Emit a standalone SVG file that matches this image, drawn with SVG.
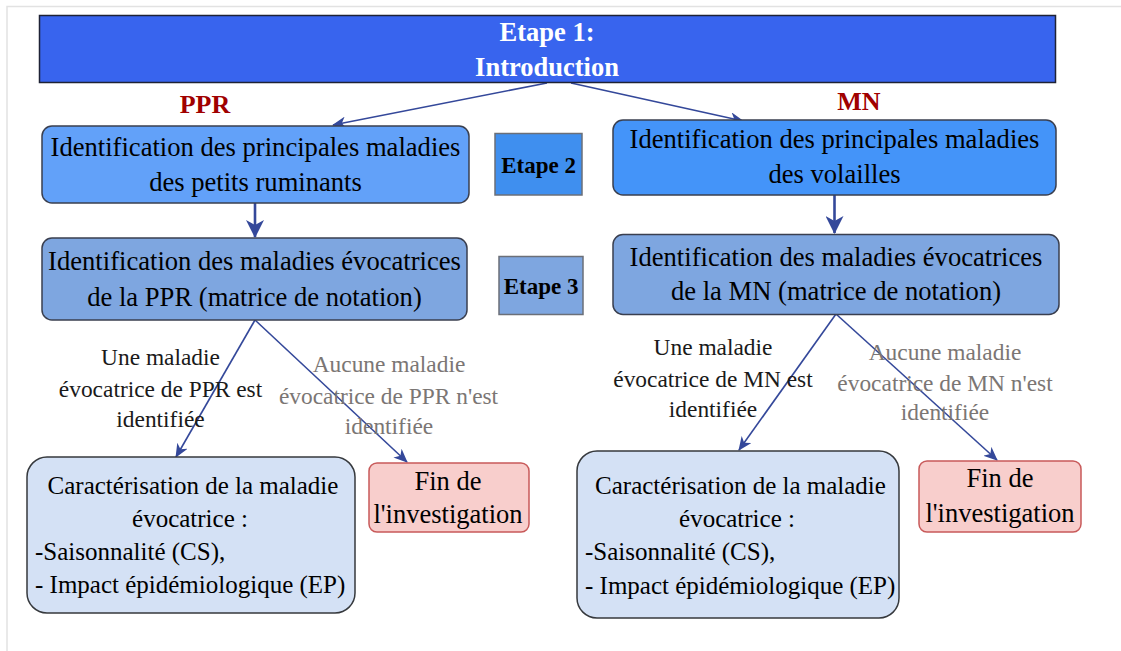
<svg xmlns="http://www.w3.org/2000/svg" width="1121" height="651" viewBox="0 0 1121 651">
<style>
text{font-family:"Liberation Serif","Times New Roman",serif;fill:#000}
.bt{font-size:26.6px;text-anchor:middle}
.ct{font-size:25px}
.lb{font-size:23.4px;text-anchor:middle;fill:#1a1a1a}
.lg{font-size:23.4px;text-anchor:middle;fill:#7b7674}
.fin{font-size:26.5px;text-anchor:middle}
.hd{font-size:26px;font-weight:bold;text-anchor:middle;fill:#a00000}
.et{font-size:23px;font-weight:bold;text-anchor:middle}
.title{font-size:26.5px;font-weight:bold;text-anchor:middle;fill:#fff}
.box{stroke:#3a3f4f;stroke-width:1.5}
.thin{stroke:#34489a;stroke-width:1.6;fill:none;marker-end:url(#ah)}
.thick{stroke:#34489a;stroke-width:2.6;fill:none;marker-end:url(#ahb)}
</style>
<defs>
<marker id="ah" markerUnits="userSpaceOnUse" markerWidth="14" markerHeight="12" refX="13" refY="6" orient="auto">
<path d="M0,0 L14,6 L0,12 L4,6 z" fill="#34489a"/>
</marker>
<marker id="ahb" markerUnits="userSpaceOnUse" markerWidth="18" markerHeight="18" refX="17" refY="9" orient="auto">
<path d="M0,0 L18,9 L0,18 L5,9 z" fill="#34489a"/>
</marker>
</defs>
<rect width="1121" height="651" fill="#fff"/>
<path d="M7,651 V6.5 H1121" fill="none" stroke="#e2e2e2" stroke-width="1.5"/>

<g id="connectors">
<line class="thin" x1="547" y1="83" x2="333" y2="125"/>
<line class="thin" x1="571" y1="83" x2="743" y2="121"/>
<line class="thick" x1="255" y1="203" x2="255" y2="237"/>
<line class="thick" x1="834.5" y1="195" x2="834.5" y2="233"/>
<line class="thin" x1="255" y1="320" x2="176" y2="457"/>
<line class="thin" x1="255" y1="320" x2="407" y2="462"/>
<line class="thin" x1="836" y1="314" x2="739" y2="450"/>
<line class="thin" x1="836" y1="314" x2="997" y2="460"/>
</g>

<g id="title">
<rect x="39.5" y="15.5" width="1016" height="67" fill="#3864ee" stroke="#1e2235" stroke-width="1.5"/>
<text class="title" x="547" y="41">Etape 1:</text>
<text class="title" x="547" y="76">Introduction</text>
</g>

<g id="label-ppr"><text class="hd" x="205" y="112.5">PPR</text></g>
<g id="label-mn"><text class="hd" x="859" y="109.5">MN</text></g>

<g id="ppr-step2">
<rect class="box" x="42" y="126" width="427" height="77" rx="10" fill="#62a1f9"/>
<text class="bt" x="255.5" y="156">Identification des principales maladies</text>
<text class="bt" x="255.5" y="190.5">des petits ruminants</text>
</g>

<g id="etape2">
<rect x="495" y="133.5" width="87" height="61.5" fill="#3f8fef" stroke="#6b6f78" stroke-width="1.5"/>
<text class="et" x="538.5" y="173.3">Etape 2</text>
</g>

<g id="mn-step2">
<rect class="box" x="613" y="120" width="443" height="75" rx="10" fill="#4494f9"/>
<text class="bt" x="834.5" y="148">Identification des principales maladies</text>
<text class="bt" x="834.5" y="183">des volailles</text>
</g>

<g id="ppr-step3">
<rect class="box" x="42" y="238" width="425" height="82" rx="10" fill="#7ea6e0"/>
<text class="bt" x="254.5" y="270.3">Identification des maladies évocatrices</text>
<text class="bt" x="254.5" y="306.3">de la PPR (matrice de notation)</text>
</g>

<g id="etape3">
<rect x="499" y="256.5" width="84" height="58" fill="#7ea6e0" stroke="#6b6f78" stroke-width="1.5"/>
<text class="et" x="541" y="294.3">Etape 3</text>
</g>

<g id="mn-step3">
<rect class="box" x="613" y="234.5" width="446" height="80" rx="10" fill="#7ea6e0"/>
<text class="bt" x="836" y="266.3">Identification des maladies évocatrices</text>
<text class="bt" x="836" y="300.3">de la MN (matrice de notation)</text>
</g>

<g id="ppr-yes-label">
<text class="lb" x="160.5" y="365">Une maladie</text>
<text class="lb" x="160.5" y="397">évocatrice de PPR est</text>
<text class="lb" x="160.5" y="427">identifiée</text>
</g>
<g id="ppr-no-label">
<text class="lg" x="389" y="372">Aucune maladie</text>
<text class="lg" x="388.5" y="403.5">évocatrice de PPR n'est</text>
<text class="lg" x="389" y="434">identifiée</text>
</g>
<g id="mn-yes-label">
<text class="lb" x="713" y="355">Une maladie</text>
<text class="lb" x="713" y="387">évocatrice de MN est</text>
<text class="lb" x="713" y="417">identifiée</text>
</g>
<g id="mn-no-label">
<text class="lg" x="945" y="360.3">Aucune maladie</text>
<text class="lg" x="945" y="390.5">évocatrice de MN n'est</text>
<text class="lg" x="945" y="420">identifiée</text>
</g>

<g id="ppr-charac">
<rect x="27" y="457" width="328" height="156" rx="20" fill="#d4e1f5" stroke="#36393d" stroke-width="1.5"/>
<text class="ct" x="193" y="494" text-anchor="middle">Caractérisation de la maladie</text>
<text class="ct" x="190" y="526.7" text-anchor="middle">évocatrice :</text>
<text class="ct" x="35" y="560">-Saisonnalité (CS),</text>
<text class="ct" x="35" y="593.3">- Impact épidémiologique (EP)</text>
</g>

<g id="ppr-end">
<rect x="369" y="463" width="160" height="69" rx="8" fill="#f8cecc" stroke="#c85a5a" stroke-width="1.5"/>
<text class="fin" x="448" y="490">Fin de</text>
<text class="fin" x="448" y="523">l'investigation</text>
</g>

<g id="mn-charac">
<rect x="577" y="451" width="322" height="167" rx="20" fill="#d4e1f5" stroke="#36393d" stroke-width="1.5"/>
<text class="ct" x="740.5" y="494" text-anchor="middle">Caractérisation de la maladie</text>
<text class="ct" x="737" y="526.7" text-anchor="middle">évocatrice :</text>
<text class="ct" x="585" y="560">-Saisonnalité (CS),</text>
<text class="ct" x="585" y="594">- Impact épidémiologique (EP)</text>
</g>

<g id="mn-end">
<rect x="919" y="461" width="162" height="71" rx="8" fill="#f8cecc" stroke="#c85a5a" stroke-width="1.5"/>
<text class="fin" x="1000" y="487">Fin de</text>
<text class="fin" x="1000" y="522">l'investigation</text>
</g>
</svg>
